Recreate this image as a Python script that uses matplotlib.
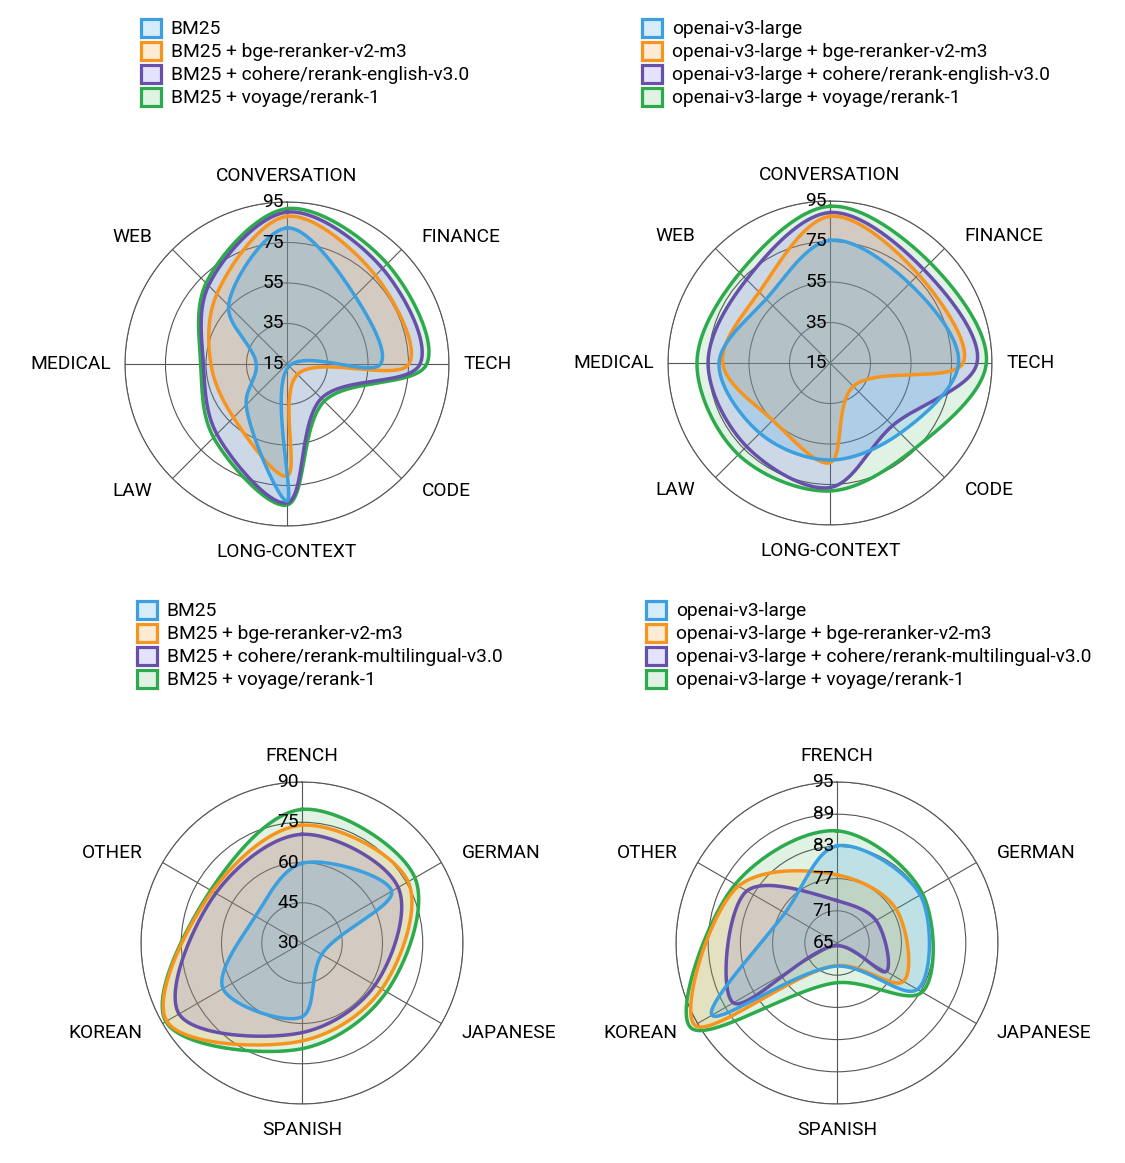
import numpy as np
import matplotlib
matplotlib.use("Agg")
import matplotlib.pyplot as plt
from matplotlib.patches import Patch

plt.rcParams["font.family"] = ["Roboto", "DejaVu Sans"]

W, H = 1125, 1163

# categories
domains = ["CONVERSATION", "FINANCE", "TECH", "CODE", "LONG-CONTEXT", "LAW", "MEDICAL", "WEB"]
languages = ["FRENCH", "GERMAN", "JAPANESE", "SPANISH", "KOREAN", "OTHER"]

# radial ticks
domain_ticks = [15, 35, 55, 75, 95]
bm25_lang_ticks = [30, 45, 60, 75, 90]
openai_lang_ticks = [65, 71, 77, 83, 89, 95]

# top left: BM25 on domains
bm25_dom_base = [82.2, 62.5, 61.2, 16.5, 82.7, 43.5, 30.2, 55.8]
bm25_dom_bge = [87.9, 76.8, 75.2, 22.3, 70.3, 52.4, 52.6, 64.0]
bm25_dom_cohere = [90.0, 81.7, 80.7, 39.0, 83.5, 64.0, 56.3, 69.8]
bm25_dom_voyage = [91.7, 85.0, 84.0, 41.0, 84.6, 66.3, 57.6, 71.5]

# top right: openai on domains
openai_dom_base = [75.6, 70.5, 78.5, 64.0, 62.9, 64.0, 69.8, 59.6]
openai_dom_bge = [87.4, 76.8, 80.7, 31.3, 64.2, 55.0, 68.0, 64.5]
openai_dom_cohere = [89.3, 80.4, 87.6, 58.7, 76.5, 73.3, 75.2, 73.3]
openai_dom_voyage = [92.4, 85.0, 92.2, 74.5, 78.2, 79.0, 80.7, 78.0]

# bottom left: BM25 on languages
bm25_lang_base = [59.7, 68.6, 38.5, 57.5, 64.0, 50.0]
bm25_lang_bge = [73.9, 75.7, 64.3, 66.5, 88.2, 68.6]
bm25_lang_cohere = [70.5, 71.4, 61.4, 63.4, 82.9, 67.1]
bm25_lang_voyage = [79.8, 78.6, 66.4, 69.4, 88.6, 69.3]

# bottom right: openai on languages
openai_lang_base = [83.1, 82.9, 82.3, 69.3, 91.9, 76.2]
openai_lang_bge = [77.7, 77.7, 79.3, 69.2, 95.6, 86.2]
openai_lang_cohere = [72.9, 73.4, 75.6, 65.5, 87.3, 84.4]
openai_lang_voyage = [85.9, 83.4, 83.3, 72.4, 96.5, 86.9]

labels_bm25_en = ["BM25", "BM25 + bge-reranker-v2-m3", "BM25 + cohere/rerank-english-v3.0", "BM25 + voyage/rerank-1"]
labels_openai_en = ["openai-v3-large", "openai-v3-large + bge-reranker-v2-m3",
                    "openai-v3-large + cohere/rerank-english-v3.0", "openai-v3-large + voyage/rerank-1"]
labels_bm25_ml = ["BM25", "BM25 + bge-reranker-v2-m3", "BM25 + cohere/rerank-multilingual-v3.0", "BM25 + voyage/rerank-1"]
labels_openai_ml = ["openai-v3-large", "openai-v3-large + bge-reranker-v2-m3",
                    "openai-v3-large + cohere/rerank-multilingual-v3.0", "openai-v3-large + voyage/rerank-1"]

line_colors = ["#3b9fe0", "#f7941d", "#6650aa", "#2daa4b"]
fill_colors = [(0.22, 0.63, 0.90, 0.20), (0.97, 0.58, 0.11, 0.18),
               (0.50, 0.45, 0.95, 0.20), (0.18, 0.67, 0.29, 0.15)]
GRID = "#555555"
FS = 13.8


def smooth_closed(theta, r, smoothness=1.0, steps=50):
    # closed catmull-rom style spline (same idea as plotly's smoothclosed)
    x = r * np.sin(theta)
    y = r * np.cos(theta)
    pts = np.column_stack([x, y])
    n = len(pts)
    tin = np.zeros_like(pts)
    tout = np.zeros_like(pts)
    for i in range(n):
        p0, p1, p2 = pts[i - 1], pts[i], pts[(i + 1) % n]
        d1 = p0 - p1
        d2 = p2 - p1
        d1a = np.hypot(*d1) ** 0.5
        d2a = np.hypot(*d2) ** 0.5
        num = (d2a ** 2 * d1 - d1a ** 2 * d2) * smoothness
        den1 = 3 * d2a * (d1a + d2a)
        den2 = 3 * d1a * (d1a + d2a)
        tin[i] = p1 + (num / den1 if den1 else 0)
        tout[i] = p1 - (num / den2 if den2 else 0)
    t = np.linspace(0, 1, steps, endpoint=False)[:, None]
    segs = []
    for i in range(n):
        j = (i + 1) % n
        a, b, c, d = pts[i], tout[i], tin[j], pts[j]
        segs.append((1 - t) ** 3 * a + 3 * (1 - t) ** 2 * t * b + 3 * (1 - t) * t ** 2 * c + t ** 3 * d)
    curve = np.vstack(segs + [pts[:1]])
    th = np.unwrap(np.arctan2(curve[:, 0], curve[:, 1]))
    rr = np.hypot(curve[:, 0], curve[:, 1])
    return th, rr


def radar(fig, center, radius, cats, ticks, series, labels, legend_xy):
    cx, cy = center
    ax = fig.add_axes([(cx - radius) / W, 1 - (cy + radius) / H, 2 * radius / W, 2 * radius / H],
                      projection="polar")
    rmin, rmax = ticks[0], ticks[-1]
    ax.set_theta_zero_location("N")
    ax.set_theta_direction(-1)
    ax.set_rlim(rmin, rmax)
    n = len(cats)
    angles = np.arange(n) * 2 * np.pi / n
    ax.set_xticks(angles, labels=[""] * n)
    ax.set_yticks(ticks[1:], labels=[""] * (len(ticks) - 1))
    ax.grid(True, color=GRID, linewidth=0.8)
    ax.spines["polar"].set_color(GRID)
    ax.spines["polar"].set_linewidth(0.8)
    ax.tick_params(length=0)

    # draw last series first so the first one ends on top
    for k in range(len(series) - 1, -1, -1):
        vals = np.array(series[k], dtype=float)
        th, rr = smooth_closed(angles, vals - rmin)
        ax.fill(th, rr + rmin, color=fill_colors[k], linewidth=0, clip_on=False, zorder=2)
        ax.plot(th, rr + rmin, color=line_colors[k], linewidth=2.5, clip_on=False, zorder=3,
                solid_joinstyle="round")

    for ang, name in zip(angles, cats):
        s, c = np.sin(ang), np.cos(ang)
        if abs(s) < 1e-6:
            ha, ox, oy = "center", 0, 26 * np.sign(c)
        else:
            ha = "left" if s > 0 else "right"
            ox = np.sign(s) * (14 if abs(c) < 1e-6 else 20)
            oy = c * 18
        ax.annotate(name, xy=(ang, rmax), xytext=(ox, oy), textcoords="offset pixels",
                    ha=ha, va="center", fontsize=FS, annotation_clip=False)

    for t in ticks:
        ax.annotate(str(t), xy=(0, t), xytext=(-3, 0), textcoords="offset pixels",
                    ha="right", va="center", fontsize=FS, zorder=5, annotation_clip=False)

    handles = [Patch(facecolor=fill_colors[k], edgecolor=line_colors[k], linewidth=2.3)
               for k in range(len(series))]
    fig.legend(handles, labels, loc="upper left",
               bbox_to_anchor=(legend_xy[0] / W, 1 - legend_xy[1] / H),
               frameon=False, fontsize=FS, handlelength=1.05, handleheight=1.05,
               handletextpad=0.5, labelspacing=0.185, borderpad=0, borderaxespad=0)
    return ax


fig = plt.figure(figsize=(W / 100, H / 100), dpi=100)

radar(fig, (287, 364), 162, domains, domain_ticks,
      [bm25_dom_base, bm25_dom_bge, bm25_dom_cohere, bm25_dom_voyage], labels_bm25_en, (141, 19))
radar(fig, (830, 363), 162, domains, domain_ticks,
      [openai_dom_base, openai_dom_bge, openai_dom_cohere, openai_dom_voyage], labels_openai_en, (642, 19))
radar(fig, (302, 943), 161, languages, bm25_lang_ticks,
      [bm25_lang_base, bm25_lang_bge, bm25_lang_cohere, bm25_lang_voyage], labels_bm25_ml, (137, 601))
radar(fig, (837, 943), 161, languages, openai_lang_ticks,
      [openai_lang_base, openai_lang_bge, openai_lang_cohere, openai_lang_voyage], labels_openai_ml, (646, 601))

fig.savefig("out.png", dpi=100, facecolor="white")
